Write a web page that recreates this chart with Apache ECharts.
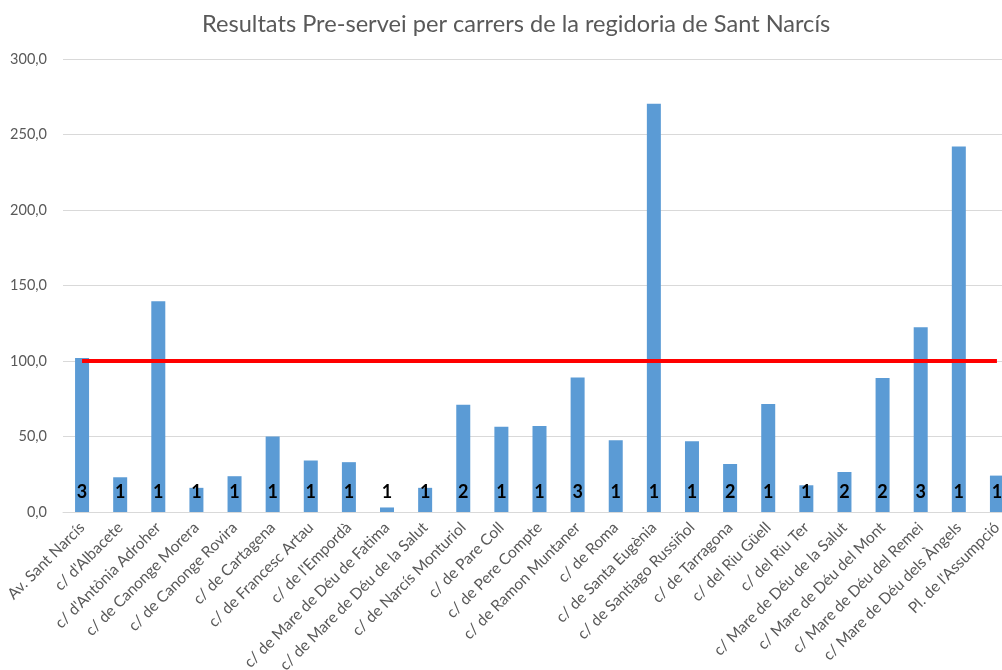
<!DOCTYPE html>
<html>
<head>
<meta charset="utf-8">
<title>Resultats Pre-servei</title>
<script src="https://cdn.jsdelivr.net/npm/echarts@6/dist/echarts.min.js"></script>
<style>
    html, body { margin: 0; padding: 0; background: #fff; }
    #chart { width: 1002px; height: 670px; }
</style>
</head>
<body>
<div id="chart"></div>
<script>
// carrers de la regidoria
var carrers = [
    "Av. Sant Narcís", "c/ d'Albacete", "c/ d'Antònia Adroher", "c/ de Canonge Morera",
    "c/ de Canonge Rovira", "c/ de Cartagena", "c/ de Francesc Artau", "c/ de l'Empordà",
    "c/ de Mare de Déu de Fatima", "c/ de Mare de Déu de la Salut", "c/ de Narcís Monturiol",
    "c/ de Pare Coll", "c/ de Pere Compte", "c/ de Ramon Muntaner", "c/ de Roma",
    "c/ de Santa Eugènia", "c/ de Santiago Russiñol", "c/ de Tarragona", "c/ del Riu Güell",
    "c/ del Riu Ter", "c/ Mare de Déu de la Salut", "c/ Mare de Déu del Mont",
    "c/ Mare de Déu del Remei", "c/ Mare de Déu dels Àngels", "Pl. de l'Assumpció"
];
// resultat pre-servei
var resultats = [102, 23, 139.5, 16, 23.7, 50, 34.1, 33, 3, 16, 71, 56.4, 57, 89.1, 47.5,
    270.4, 46.9, 31.8, 71.6, 17.7, 26.5, 88.7, 122.3, 242, 24.1];
// nombre de mesures per carrer (etiqueta dins la barra)
var mesures = [3, 1, 1, 1, 1, 1, 1, 1, 1, 1, 2, 1, 1, 3, 1, 1, 1, 2, 1, 1, 2, 2, 3, 1, 1];
// llindar
var llindar = [100, 100, 100, 100, 100, 100, 100, 100, 100, 100, 100, 100, 100, 100, 100,
    100, 100, 100, 100, 100, 100, 100, 100, 100, 100];

var font = 'Lato, "Noto Sans", sans-serif';
var chart = echarts.init(document.getElementById('chart'));

var option = {
    animation: false,
    title: {
        text: 'Resultats Pre-servei per carrers de la regidoria de Sant Narcís',
        left: 197,
        top: 7,
        textStyle: { color: '#595959', fontFamily: font, fontSize: 23.6, fontWeight: 'normal' }
    },
    grid: { left: 63, top: 59, width: 953, height: 453, outerBoundsMode: 'none', containLabel: false },
    xAxis: {
        type: 'category',
        data: carrers,
        axisLine: { lineStyle: { color: '#d9d9d9', width: 1 } },
        axisTick: { show: false },
        axisLabel: {
            rotate: 45, interval: 0, margin: 13,
            color: '#595959', fontFamily: font, fontSize: 15.5
        }
    },
    yAxis: {
        type: 'value',
        min: 0, max: 300, interval: 50,
        axisLine: { show: false },
        axisTick: { show: false },
        splitLine: { lineStyle: { color: '#d9d9d9', width: 1 } },
        axisLabel: {
            margin: 16, color: '#595959', fontFamily: font, fontSize: 14.5,
            formatter: function (v) { return v.toFixed(1).replace('.', ','); }
        }
    },
    series: [
        {
            name: 'Resultat',
            type: 'bar',
            data: resultats,
            barWidth: 14,
            itemStyle: { color: '#5b9bd5' },
            label: {
                show: true,
                position: 'insideBottom',
                distance: 11,
                color: '#000',
                fontFamily: font,
                fontSize: 18,
                fontWeight: 'bold',
                formatter: function (p) { return mesures[p.dataIndex]; }
            }
        },
        {
            name: 'Llindar',
            type: 'line',
            data: llindar,
            symbol: 'none',
            lineStyle: { color: '#ff0000', width: 4 },
            z: 3
        }
    ]
};
chart.setOption(option);
</script>
</body>
</html>
